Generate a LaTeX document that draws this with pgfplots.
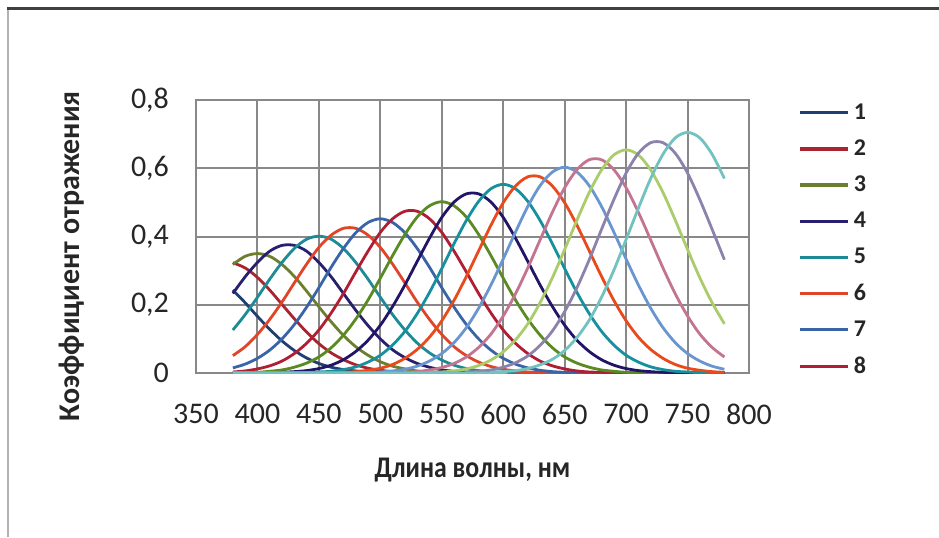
\documentclass[border=0pt]{standalone}
\usepackage{pgfplots}
\pgfplotsset{compat=1.18}
\usepackage{fontspec}
\setmainfont{Carlito}
\newfontfamily\narrowfont[FakeStretch=0.86]{Carlito}
\definecolor{c1}{HTML}{1F3F72}
\definecolor{c2}{HTML}{A8242E}
\definecolor{c3}{HTML}{6B7F2E}
\definecolor{c4}{HTML}{28206E}
\definecolor{c5}{HTML}{1E8A96}
\definecolor{c6}{HTML}{E0452A}
\definecolor{c7}{HTML}{3A64A8}
\definecolor{c8}{HTML}{B01E34}
\definecolor{c9}{HTML}{5A8A22}
\definecolor{c10}{HTML}{221466}
\definecolor{c11}{HTML}{17909E}
\definecolor{c12}{HTML}{E84A1C}
\definecolor{c13}{HTML}{6A96D0}
\definecolor{c14}{HTML}{C27490}
\definecolor{c15}{HTML}{AACC6A}
\definecolor{c16}{HTML}{8C82AC}
\definecolor{c17}{HTML}{72C2C0}
\definecolor{gridgray}{HTML}{888888}
\begin{document}
\begin{tikzpicture}
\useasboundingbox (0,0) rectangle (469.5pt,268.5pt);
\fill[white] (0,0) rectangle (469.5pt,268.5pt);
\draw[gray!60, line width=1pt] (4pt,0) -- (4pt,264pt);
\draw[black!75, line width=1.5pt] (3.5pt,264pt) -- (469.5pt,264pt);
\begin{axis}[
  at={(98pt,82pt)}, anchor=south west,
  scale only axis, width=276.5pt, height=136.5pt,
  xmin=350, xmax=800, ymin=0, ymax=0.8,
  xtick={350,400,...,800}, ytick={0,0.2,0.4,0.6,0.8},
  grid=major,
  major grid style={gridgray, line width=1pt},
  axis line style={gridgray, line width=1pt},
  major tick length=0pt,
  /pgf/number format/assume math mode=true,
  /pgf/number format/use comma,
  /pgf/number format/fixed,
  /pgf/number format/precision=1,
  xticklabel style={font=\fontsize{15}{17}\selectfont, text=black!85, yshift=-12pt},
  yticklabel style={font=\fontsize{15}{17}\selectfont, text=black!85, xshift=-10pt},
  xlabel={Длина волны, нм},
  ylabel={Коэффициент отражения},
  xlabel style={font=\narrowfont\fontsize{15}{17}\selectfont\bfseries, text=black!85, at={(axis description cs:0.5,-0.355)}, anchor=center},
  ylabel style={font=\fontsize{15}{17}\selectfont\bfseries, text=black!85, at={(axis description cs:-0.225,0.428)}, anchor=center},
  legend style={at={(axis description cs:1.089,1.003)}, anchor=north west, draw=none, fill=none,
    font=\fontsize{12}{14}\selectfont\bfseries, text=black!85, row sep=4.7pt, inner sep=0pt},
  legend image code/.code={\draw[#1, line width=1.6pt] (0pt,0pt) -- (24pt,0pt);},
  legend cell align=left,
  every axis plot/.append style={line width=1.4pt, smooth},
]
\addplot[c1] coordinates {(380,0.243)(390,0.206)(400,0.166)(410,0.128)(420,0.094)(430,0.066)(440,0.044)(450,0.028)(460,0.017)(470,0.010)(480,0.006)(490,0.003)(500,0.001)(520,0)(780,0)};
\addlegendentry{1}
\addplot[c2] coordinates {(380,0.323)(390,0.308)(400,0.280)(410,0.243)(420,0.201)(430,0.159)(440,0.120)(450,0.086)(460,0.059)(470,0.039)(480,0.024)(490,0.014)(500,0.008)(510,0.004)(520,0.002)(530,0.001)(550,0)(780,0)};
\addlegendentry{2}
\addplot[c3] coordinates {(380,0.318)(390,0.342)(400,0.350)(410,0.342)(420,0.318)(430,0.283)(440,0.240)(450,0.194)(460,0.150)(470,0.110)(480,0.077)(490,0.052)(500,0.033)(510,0.020)(520,0.012)(530,0.006)(540,0.003)(550,0.002)(570,0)(780,0)};
\addlegendentry{3}
\addplot[c4] coordinates {(380,0.233)(390,0.282)(400,0.324)(410,0.357)(420,0.374)(430,0.374)(440,0.357)(450,0.324)(460,0.282)(470,0.233)(480,0.184)(490,0.139)(500,0.100)(510,0.068)(520,0.045)(530,0.028)(540,0.017)(550,0.009)(560,0.005)(570,0.003)(580,0.001)(600,0)(780,0)};
\addlegendentry{4}
\addplot[c5] coordinates {(380,0.126)(390,0.171)(400,0.222)(410,0.275)(420,0.324)(430,0.365)(440,0.392)(450,0.401)(460,0.392)(470,0.365)(480,0.324)(490,0.275)(500,0.222)(510,0.171)(520,0.126)(530,0.088)(540,0.059)(550,0.038)(560,0.023)(570,0.013)(580,0.007)(590,0.004)(600,0.002)(610,0.001)(630,0)(780,0)};
\addlegendentry{5}
\addplot[c6] coordinates {(380,0.051)(390,0.077)(400,0.113)(410,0.157)(420,0.208)(430,0.264)(440,0.319)(450,0.368)(460,0.404)(470,0.424)(480,0.424)(490,0.404)(500,0.368)(510,0.319)(520,0.264)(530,0.208)(540,0.157)(550,0.113)(560,0.077)(570,0.051)(580,0.032)(590,0.019)(600,0.011)(610,0.006)(620,0.003)(630,0.001)(650,0)(780,0)};
\addlegendentry{6}
\addplot[c7] coordinates {(380,0.015)(390,0.026)(400,0.043)(410,0.067)(420,0.100)(430,0.142)(440,0.193)(450,0.250)(460,0.310)(470,0.365)(480,0.411)(490,0.441)(500,0.452)(510,0.441)(520,0.411)(530,0.365)(540,0.310)(550,0.250)(560,0.193)(570,0.142)(580,0.100)(590,0.067)(600,0.043)(610,0.026)(620,0.015)(630,0.008)(640,0.004)(650,0.002)(660,0.001)(680,0)(780,0)};
\addlegendentry{7}
\addplot[c8] coordinates {(380,0.003)(390,0.006)(400,0.012)(410,0.021)(420,0.035)(430,0.057)(440,0.087)(450,0.126)(460,0.176)(470,0.233)(480,0.296)(490,0.357)(500,0.412)(510,0.452)(520,0.474)(530,0.474)(540,0.452)(550,0.412)(560,0.357)(570,0.296)(580,0.233)(590,0.176)(600,0.126)(610,0.087)(620,0.057)(630,0.035)(640,0.021)(650,0.012)(660,0.006)(670,0.003)(680,0.002)(700,0)(780,0)};
\addlegendentry{8}
\addplot[c9, forget plot] coordinates {(380,0.000)(390,0.001)(400,0.002)(410,0.005)(420,0.009)(430,0.017)(440,0.029)(450,0.047)(460,0.074)(470,0.111)(480,0.158)(490,0.214)(500,0.278)(510,0.344)(520,0.406)(530,0.457)(540,0.490)(550,0.502)(560,0.490)(570,0.457)(580,0.406)(590,0.344)(600,0.278)(610,0.214)(620,0.158)(630,0.111)(640,0.074)(650,0.047)(660,0.029)(670,0.017)(680,0.009)(690,0.005)(700,0.002)(710,0.001)(730,0)(780,0)};
\addplot[c10, forget plot] coordinates {(380,0)(410,0)(420,0.002)(430,0.004)(440,0.007)(450,0.013)(460,0.023)(470,0.039)(480,0.063)(490,0.096)(500,0.140)(510,0.195)(520,0.258)(530,0.327)(540,0.395)(550,0.456)(560,0.501)(570,0.525)(580,0.525)(590,0.501)(600,0.456)(610,0.395)(620,0.327)(630,0.258)(640,0.195)(650,0.140)(660,0.096)(670,0.063)(680,0.039)(690,0.023)(700,0.013)(710,0.007)(720,0.004)(730,0.002)(740,0.001)(760,0)(780,0)};
\addplot[c11, forget plot] coordinates {(380,0)(430,0)(440,0.001)(450,0.003)(460,0.005)(470,0.010)(480,0.018)(490,0.032)(500,0.052)(510,0.082)(520,0.122)(530,0.174)(540,0.236)(550,0.306)(560,0.379)(570,0.447)(580,0.503)(590,0.540)(600,0.553)(610,0.540)(620,0.503)(630,0.447)(640,0.379)(650,0.306)(660,0.236)(670,0.174)(680,0.122)(690,0.082)(700,0.052)(710,0.032)(720,0.018)(730,0.010)(740,0.005)(750,0.003)(760,0.001)(780,0)};
\addplot[c12, forget plot] coordinates {(380,0)(460,0)(470,0.002)(480,0.004)(490,0.008)(500,0.014)(510,0.025)(520,0.043)(530,0.069)(540,0.105)(550,0.153)(560,0.213)(570,0.283)(580,0.358)(590,0.433)(600,0.499)(610,0.548)(620,0.575)(630,0.575)(640,0.548)(650,0.499)(660,0.433)(670,0.358)(680,0.283)(690,0.213)(700,0.153)(710,0.105)(720,0.069)(730,0.043)(740,0.025)(750,0.014)(760,0.008)(770,0.004)(780,0.002)};
\addplot[c13, forget plot] coordinates {(380,0)(480,0)(490,0.001)(500,0.003)(510,0.006)(520,0.011)(530,0.020)(540,0.035)(550,0.057)(560,0.089)(570,0.133)(580,0.190)(590,0.258)(600,0.334)(610,0.413)(620,0.488)(630,0.549)(640,0.589)(650,0.603)(660,0.589)(670,0.549)(680,0.488)(690,0.413)(700,0.334)(710,0.258)(720,0.190)(730,0.133)(740,0.089)(750,0.057)(760,0.035)(770,0.020)(780,0.011)};
\addplot[c14, forget plot] coordinates {(380,0)(510,0)(520,0.002)(530,0.004)(540,0.009)(550,0.016)(560,0.028)(570,0.047)(580,0.075)(590,0.114)(600,0.167)(610,0.232)(620,0.308)(630,0.390)(640,0.471)(650,0.543)(660,0.596)(670,0.625)(680,0.625)(690,0.596)(700,0.543)(710,0.471)(720,0.390)(730,0.308)(740,0.232)(750,0.167)(760,0.114)(770,0.075)(780,0.047)};
\addplot[c15, forget plot] coordinates {(380,0)(530,0)(540,0.002)(550,0.003)(560,0.006)(570,0.012)(580,0.022)(590,0.038)(600,0.062)(610,0.097)(620,0.144)(630,0.206)(640,0.279)(650,0.362)(660,0.448)(670,0.529)(680,0.595)(690,0.639)(700,0.654)(710,0.639)(720,0.595)(730,0.529)(740,0.448)(750,0.362)(760,0.279)(770,0.206)(780,0.144)};
\addplot[c16, forget plot] coordinates {(380,0)(560,0)(570,0.002)(580,0.005)(590,0.009)(600,0.017)(610,0.030)(620,0.050)(630,0.081)(640,0.123)(650,0.180)(660,0.250)(670,0.332)(680,0.421)(690,0.508)(700,0.586)(710,0.644)(720,0.675)(730,0.675)(740,0.644)(750,0.586)(760,0.508)(770,0.421)(780,0.332)};
\addplot[c17, forget plot] coordinates {(380,0)(580,0)(590,0.002)(600,0.004)(610,0.007)(620,0.013)(630,0.024)(640,0.040)(650,0.066)(660,0.104)(670,0.155)(680,0.222)(690,0.301)(700,0.391)(710,0.483)(720,0.570)(730,0.641)(740,0.689)(750,0.705)(760,0.689)(770,0.641)(780,0.570)};
\end{axis}
\end{tikzpicture}
\end{document}
